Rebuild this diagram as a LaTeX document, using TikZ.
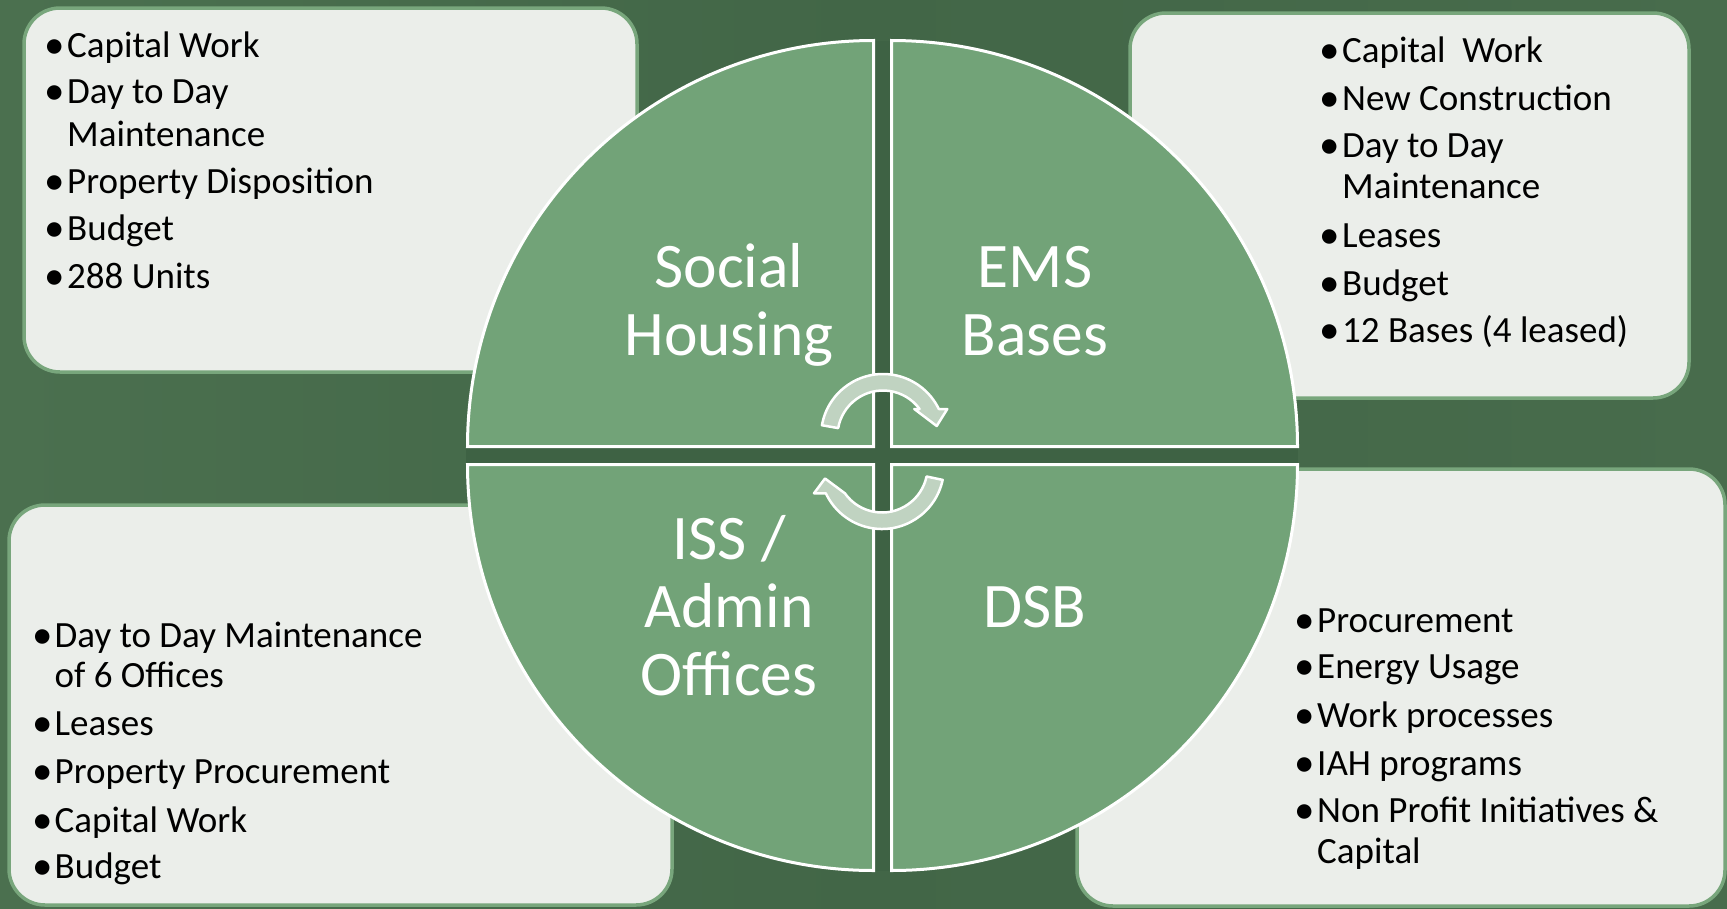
\documentclass[tikz,border=0pt]{standalone}
\usepackage{fontspec}
\setmainfont{Carlito}
\definecolor{bgleft}{RGB}{75,112,79}
\definecolor{bgmid}{RGB}{66,102,71}
\definecolor{bgright}{RGB}{72,108,76}
\definecolor{gapdark}{RGB}{62,98,68}
\definecolor{boxfill}{RGB}{235,238,234}
\definecolor{boxline}{RGB}{120,166,124}
\definecolor{quadfill}{RGB}{114,163,120}
\definecolor{arrowfill}{RGB}{192,211,193}
\newcommand\bul{\makebox[21pt][l]{\hspace*{-1.5pt}\raisebox{-1pt}{\fontsize{41}{41}\selectfont •}}}
\begin{document}
\begin{tikzpicture}[x=1pt,y=1pt,
  infobox/.style={fill=boxfill, draw=boxline, line width=3.5pt, rounded corners=36pt},
  quad/.style={fill=quadfill, draw=white, line width=3pt, line join=miter},
  cyclearrow/.style={fill=arrowfill, draw=white, line width=2.5pt, line join=round},
  item/.style={anchor=base west, inner sep=0pt, text=black,
    font=\fontsize{37}{42}\selectfont},
  qlabel/.style={anchor=base, inner sep=0pt, text=white,
    font=\fontsize{63.5}{68}\selectfont}]
\useasboundingbox (0,0) rectangle (1727,-908);

% background
\shade[left color=bgleft, right color=bgright, middle color=bgmid]
  (0,0) rectangle (1727,-908);

% detail boxes
\draw[infobox] (24,-8) rectangle (637,-372);
\draw[infobox] (1130,-13) rectangle (1689,-398);
\draw[infobox] (9,-505) rectangle (672,-905);
\draw[infobox] (1077,-469) rectangle (1725,-906);

% box texts: top left
\node[item] (tl1) at (46,-57)  {\bul Capital Work};
\node[item] (tl2) at (46,-103) {\bul Day to Day};
\node[item] (tl2b) at (67,-146) {Maintenance};
\node[item] (tl3) at (46,-193) {\bul Property Disposition};
\node[item] (tl4) at (46,-240) {\bul Budget};
\node[item] (tl5) at (46,-288) {\bul 288 Units};

% top right
\node[item] (tr1) at (1321,-62)  {\bul Capital~ Work};
\node[item] (tr2) at (1321,-110) {\bul New Construction};
\node[item] (tr3) at (1321,-157) {\bul Day to Day};
\node[item] (tr3b) at (1342,-198) {Maintenance};
\node[item] (tr4) at (1321,-247) {\bul Leases};
\node[item] (tr5) at (1321,-295) {\bul Budget};
\node[item] (tr6) at (1321,-342) {\bul 12 Bases (4 leased)};

% bottom left
\node[item] (bl1) at (33.5,-647) {\bul Day to Day Maintenance};
\node[item] (bl1b) at (54.5,-687) {of 6 Offices};
\node[item] (bl2) at (33.5,-735) {\bul Leases};
\node[item] (bl3) at (33.5,-783) {\bul Property Procurement};
\node[item] (bl4) at (33.5,-832) {\bul Capital Work};
\node[item] (bl5) at (33.5,-878) {\bul Budget};

% bottom right
\node[item] (br1) at (1296,-632) {\bul Procurement};
\node[item] (br2) at (1296,-678) {\bul Energy Usage};
\node[item] (br3) at (1296,-727) {\bul Work processes};
\node[item] (br4) at (1296,-775) {\bul IAH programs};
\node[item] (br5) at (1296,-822) {\bul Non Profit Initiatives \&};
\node[item] (br5b) at (1317,-863) {Capital};

% dark gap between the quarters
\fill[gapdark] (873.5,-41) rectangle (891.5,-870.5);
\fill[gapdark] (466,-446.5) rectangle (1297.5,-464.5);

% the four quarters
\draw[quad] (873.5,-446.5) -- ++(-406,0) arc[start angle=180, end angle=90, radius=406] -- cycle;
\draw[quad] (891.5,-446.5) -- ++(0,406) arc[start angle=90, end angle=0, radius=406] -- cycle;
\draw[quad] (891.5,-464.5) -- ++(406,0) arc[start angle=0, end angle=-90, radius=406] -- cycle;
\draw[quad] (873.5,-464.5) -- ++(0,-406) arc[start angle=-90, end angle=-180, radius=406] -- cycle;

% quarter labels
\node[qlabel] (sh1) at (729,-287) {Social};
\node[qlabel] (sh2) at (729,-355) {Housing};
\node[qlabel] (ems1) at (1035,-287) {EMS};
\node[qlabel] (ems2) at (1035,-355) {Bases};
\node[qlabel] (iss1) at (729,-559) {ISS /};
\node[qlabel] (iss2) at (729,-627) {Admin};
\node[qlabel] (iss3) at (729,-695) {Offices};
\node[qlabel] (dsb) at (1035,-627) {DSB};

% circular arrows in the middle
\draw[cyclearrow] (883,-436) ++(170:62)
  arc[start angle=170, end angle=25.8, radius=62]
  -- (947.3,-409) -- (936.7,-426) -- (914.3,-409) -- (919.6,-409)
  arc[start angle=36.4, end angle=170, radius=45.5] -- cycle;
\draw[cyclearrow] (882,-467) ++(-12:62)
  arc[start angle=-12, end angle=-154.9, radius=62]
  -- (814,-493.3) -- (825,-478.5) -- (844.9,-493.3)
  arc[start angle=-144.7, end angle=-12, radius=45.5] -- cycle;
\end{tikzpicture}
\end{document}
